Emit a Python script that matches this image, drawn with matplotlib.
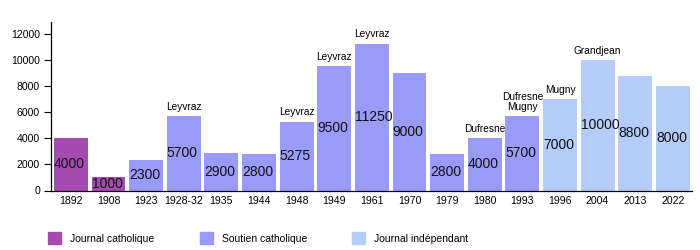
import matplotlib.pyplot as plt
from matplotlib.patches import Rectangle

plt.rcParams['font.family'] = ['Liberation Sans', 'DejaVu Sans']

years = ['1892', '1908', '1923', '1928-32', '1935', '1944', '1948', '1949', '1961',
         '1970', '1979', '1980', '1993', '1996', '2004', '2013', '2022']
values = [4000, 1000, 2300, 5700, 2900, 2800, 5275, 9500, 11250,
          9000, 2800, 4000, 5700, 7000, 10000, 8800, 8000]
# 0 = Journal catholique, 1 = Soutien catholique, 2 = Journal indépendant
groups = [0, 0, 1, 1, 1, 1, 1, 1, 1, 1, 1, 1, 1, 2, 2, 2, 2]
editors = ['', '', '', 'Leyvraz', '', '', 'Leyvraz', 'Leyvraz', 'Leyvraz',
           '', '', 'Dufresne', 'Dufresne\nMugny', 'Mugny', 'Grandjean', '', '']

group_names = ['Journal catholique', 'Soutien catholique', 'Journal indépendant']
group_colors = ['#a64bb0', '#9a9af8', '#b5cbfa']

fig = plt.figure(figsize=(7, 2.5), dpi=100)
ax = fig.add_axes([51 / 700, 1 - 190.5 / 250, (692 - 51) / 700, (190.5 - 22) / 250])

x = list(range(len(years)))
ax.bar(x, values, width=0.9, color=[group_colors[g] for g in groups])

for i, v in enumerate(values):
    ax.text(i - 0.45, v / 2, str(v), ha='left', va='center', fontsize=10, color='#111111')
    if editors[i]:
        ax.annotate(editors[i], (i, v), xytext=(0, 3), textcoords='offset points',
                    ha='center', va='bottom', fontsize=7.3, linespacing=1.0)

ax.set_xlim(-0.53, len(years) - 0.49)
ax.set_ylim(0, 12900)
ax.set_yticks(range(0, 12001, 2000))
ax.set_xticks(x)
ax.set_xticklabels(years)
ax.tick_params(axis='x', length=0, labelsize=7.6, pad=4)
ax.tick_params(axis='y', length=5, width=0.8, labelsize=7.6, pad=3)
for s in ['top', 'right']:
    ax.spines[s].set_visible(False)
for s in ['left', 'bottom']:
    ax.spines[s].set_linewidth(0.9)

# legend drawn in figure pixels
for k, (name, col) in enumerate(zip(group_names, group_colors)):
    x0 = 48 + k * 152
    fig.add_artist(Rectangle((x0 / 700, 1 - 244 / 250), 13 / 700, 12 / 250,
                             transform=fig.transFigure, color=col))
    fig.text((x0 + 22) / 700, 1 - 238.5 / 250, name, fontsize=7.5, va='center', ha='left')

fig.savefig('out.png', dpi=100)
